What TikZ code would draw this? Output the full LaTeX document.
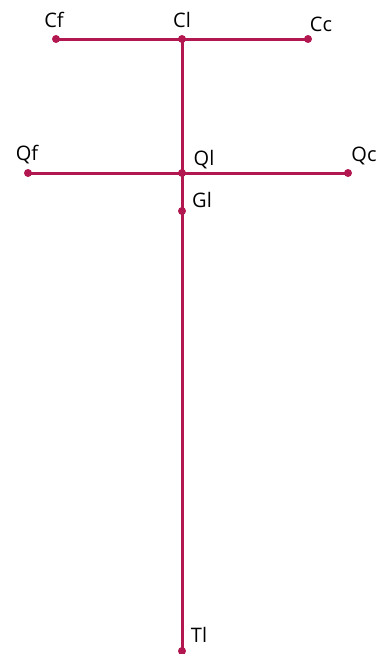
\documentclass[tikz,border=0pt]{standalone}
\usepackage{fontspec}
\setmainfont{Open Sans}
\definecolor{crim}{HTML}{B3174F}
\begin{document}
\begin{tikzpicture}[x=1pt,y=-1pt,
  ln/.style={draw=crim,line width=3pt},
  pt/.style={circle,fill=crim,inner sep=0pt,minimum size=8pt},
  lab/.style={font=\fontsize{20}{24}\selectfont,inner sep=0pt,text=black}]
\useasboundingbox (0,0) rectangle (378,654);
\node[pt] (cf) at (56,39) {};
\node[pt] (cl) at (182,39) {};
\node[pt] (cc) at (308,39) {};
\node[pt] (qf) at (28,173) {};
\node[pt] (ql) at (182,173) {};
\node[pt] (qc) at (348,173) {};
\node[pt] (gl) at (182,211) {};
\node[pt] (tl) at (182,651) {};
\draw[ln] (cf.center) -- (cc.center);
\draw[ln] (qf.center) -- (qc.center);
\draw[ln] (cl.center) -- (tl.center);
\node[lab] (tcf) at (54,20) {Cf};
\node[lab] (tcl) at (182,20) {Cl};
\node[lab] (tcc) at (321,24) {Cc};
\node[lab] (tqf) at (27,155) {Qf};
\node[lab] (tql) at (204,160) {Ql};
\node[lab] (tqc) at (364,156) {Qc};
\node[lab] (tgl) at (202,200) {Gl};
\node[lab] (ttl) at (199,635) {Tl};
\end{tikzpicture}
\end{document}
